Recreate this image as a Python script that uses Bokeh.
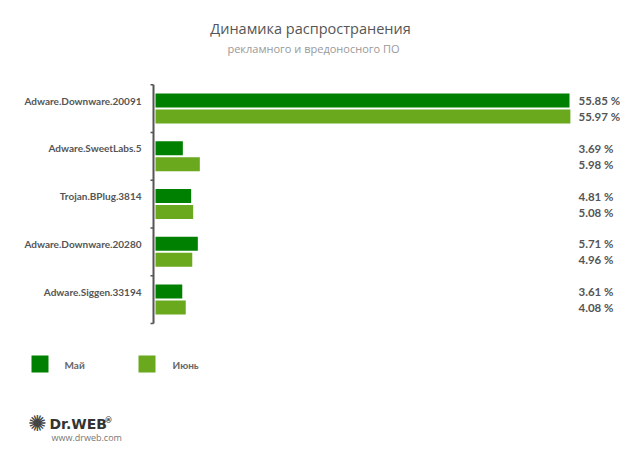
from bokeh.plotting import figure
from bokeh.models import Range1d, Label, ColumnDataSource, BoxAnnotation
from bokeh.core.properties import value
from bokeh.embed import file_html
from bokeh.resources import INLINE

# ---- data ----
categories = ["Adware.Downware.20091", "Adware.SweetLabs.5", "Trojan.BPlug.3814",
              "Adware.Downware.20280", "Adware.Siggen.33194"]
may = [55.85, 3.69, 4.81, 5.71, 3.61]
june = [55.97, 5.98, 5.08, 4.96, 4.08]
series_names = ["Май", "Июнь"]
title_text = "Динамика распространения"
subtitle_text = "рекламного и вредоносного ПО"

C_MAY = "#008000"
C_JUNE = "#6aa81e"
GREY = "#555555"

W, H = 620, 456
PX_PER_UNIT_X = 414 / 55.85
PX_PER_CAT = 47.75
X0_PX = 155
Y0_PX = 108

p = figure(width=W, height=H, output_backend="svg", toolbar_location=None,
           x_axis_location=None, y_axis_location=None,
           min_border=0, min_border_left=0, min_border_right=0,
           min_border_top=0, min_border_bottom=0)
p.outline_line_color = None
p.xgrid.visible = False
p.ygrid.visible = False
p.x_range = Range1d(-X0_PX / PX_PER_UNIT_X, (W - X0_PX) / PX_PER_UNIT_X)
p.y_range = Range1d((H - Y0_PX) / PX_PER_CAT, -Y0_PX / PX_PER_CAT)

idx = list(range(len(categories)))
off = 8 / PX_PER_CAT
bh = 14 / PX_PER_CAT
src = ColumnDataSource(dict(
    y_may=[i - off for i in idx], y_june=[i + off for i in idx],
    may=may, june=june, cat=categories,
    may_lbl=[f"{v:.2f} %" for v in may], june_lbl=[f"{v:.2f} %" for v in june],
))
p.hbar(y="y_may", left=0, right="may", height=bh, source=src,
       fill_color=C_MAY, line_color=None)
p.hbar(y="y_june", left=0, right="june", height=bh, source=src,
       fill_color=C_JUNE, line_color=None)

# axis line and ticks
ax_x = -2 / PX_PER_UNIT_X
p.segment(x0=[ax_x], y0=[-0.5], x1=[ax_x], y1=[len(categories) - 0.5],
          line_color=GREY, line_width=2)
bounds = [i - 0.5 for i in range(len(categories) + 1)]
p.segment(x0=[ax_x - 3 / PX_PER_UNIT_X] * len(bounds), y0=bounds,
          x1=[ax_x] * len(bounds), y1=bounds, line_color=GREY, line_width=1.5)

# category labels
p.text(x=0, y="y_may", text="cat", source=src, x_offset=-14,
       text_align="right", text_baseline="middle",
       text_font=value("Lato"), text_font_style="bold", text_font_size="10px",
       text_color=GREY)
# value labels
for col, ycol in [("may_lbl", "y_may"), ("june_lbl", "y_june")]:
    p.text(x=0, y=ycol, text=col, source=src, x_offset=423,
           text_align="left", text_baseline="middle",
           text_font=value("Lato"), text_font_style="bold", text_font_size="11.5px",
           text_color=GREY)


def lab(text, x, y, size, color, style="normal", align="left", font="Open Sans"):
    p.add_layout(Label(x=x, y=H - y, x_units="screen", y_units="screen",
                       text=text, text_font_size=size, text_color=color,
                       text_font_style=style, text_align=align,
                       text_baseline="middle", text_font=font))


lab(title_text, 310, 28, "14.5px", GREY, align="center")
lab(subtitle_text, 313, 48, "11px", "#999999", align="center")

# legend
for x0, c in [(31, C_MAY), (138, C_JUNE)]:
    p.add_layout(BoxAnnotation(left=x0, right=x0 + 17, top=H - 355, bottom=H - 372,
                               left_units="screen", right_units="screen",
                               top_units="screen", bottom_units="screen",
                               fill_color=c, fill_alpha=1, line_color=None))
lab(series_names[0], 64, 364, "10px", "#666666", style="bold", font="Lato")
lab(series_names[1], 172, 364, "10px", "#666666", style="bold", font="Lato")

# logo
lab("✺", 37, 423, "22px", "#444444", align="center", font="DejaVu Sans")
lab("Dr.WEB", 49, 423, "14px", "#333333", style="bold", font="DejaVu Sans")
lab("®", 104, 420, "8px", "#333333", style="bold", font="DejaVu Sans")
lab("www.drweb.com", 51, 437, "9px", "#777777", font="Open Sans")

open("out.html", "w").write(file_html(p, INLINE))
